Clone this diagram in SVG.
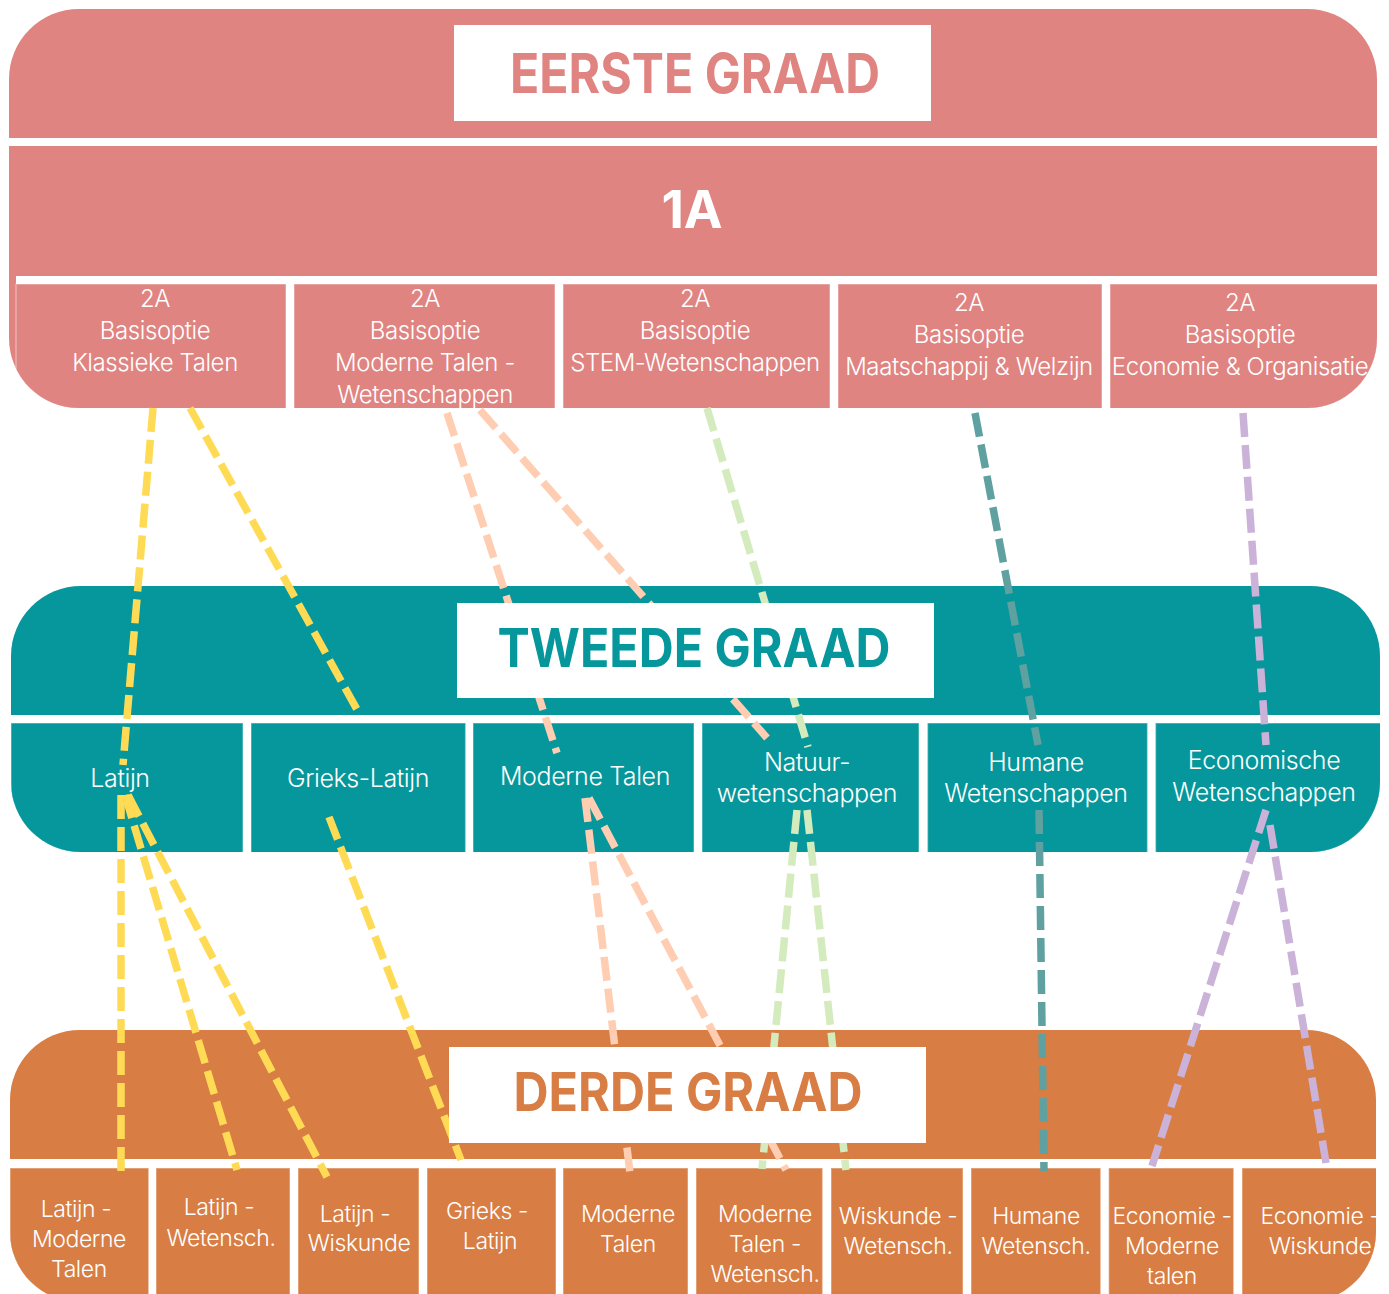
<svg xmlns="http://www.w3.org/2000/svg" width="1389" height="1294" viewBox="0 0 1389 1294">
<defs>
<style>
.p1{fill:#e08482}
.p2{fill:#05979b}
.p3{fill:#d87d43}
.w{fill:#ffffff}
.cell{stroke:#ffffff;stroke-opacity:0.35;stroke-width:1.5}
.ttl{font-family:Inter,"Noto Sans",sans-serif;font-weight:700;text-anchor:middle}
.t{font-family:Inter,"Noto Sans",sans-serif;font-weight:300;fill:#ffffff;text-anchor:middle;letter-spacing:-0.4px}
.s1{font-size:24px}
.s2{font-size:25px}
.s3{font-size:23px}
.c{fill:none;stroke-width:7.5;stroke-dasharray:24 8;stroke-linecap:butt}
.cy{stroke:#ffdb55}
.cp{stroke:#ffcdb1}
.cg{stroke:#d3ebbd}
.ct{stroke:#5fa0a0}
.cl{stroke:#cbb2d8}
</style>
<clipPath id="clip1"><rect x="9" y="9" width="1368" height="399" rx="70" ry="70"/></clipPath>
<clipPath id="clip2"><rect x="11" y="586" width="1369" height="266" rx="70" ry="70"/></clipPath>
<clipPath id="clip3"><rect x="10" y="1030" width="1366" height="272" rx="70" ry="70"/></clipPath>
</defs>

<g id="eerste-graad" clip-path="url(#clip1)">
<rect class="p1" x="9" y="9" width="1368" height="399"/>
<rect class="w" x="9" y="138" width="1368" height="8"/>
<rect class="w" x="16" y="276" width="1361" height="132"/>
<g id="e-1a"><rect class="p1" x="9" y="146" width="1368" height="130"/><text class="ttl" x="692" y="228" font-size="52" fill="#ffffff">1A</text></g>
<g id="e-kt"><rect class="p1 cell" x="16" y="284" width="270" height="130"/>
<text class="t s1" x="155"><tspan x="155" y="307">2A</tspan><tspan x="155" y="339">Basisoptie</tspan><tspan x="155" y="371">Klassieke Talen</tspan></text></g>
<g id="e-mtw"><rect class="p1 cell" x="294" y="284" width="261" height="130"/>
<text class="t s1" x="425"><tspan x="425" y="307">2A</tspan><tspan x="425" y="339">Basisoptie</tspan><tspan x="425" y="371">Moderne Talen -</tspan><tspan x="425" y="403">Wetenschappen</tspan></text></g>
<g id="e-stem"><rect class="p1 cell" x="563" y="284" width="267" height="130"/>
<text class="t s1" x="695"><tspan x="695" y="307">2A</tspan><tspan x="695" y="339">Basisoptie</tspan><tspan x="695" y="371">STEM-Wetenschappen</tspan></text></g>
<g id="e-mw"><rect class="p1 cell" x="838" y="284" width="264" height="130"/>
<text class="t s1" x="969"><tspan x="969" y="311">2A</tspan><tspan x="969" y="343">Basisoptie</tspan><tspan x="969" y="375">Maatschappij &amp; Welzijn</tspan></text></g>
<g id="e-eo"><rect class="p1 cell" x="1110" y="284" width="270" height="130"/>
<text class="t s1" x="1240"><tspan x="1240" y="311">2A</tspan><tspan x="1240" y="343">Basisoptie</tspan><tspan x="1240" y="375">Economie &amp; Organisatie</tspan></text></g>
</g>

<g id="tweede-graad" clip-path="url(#clip2)">
<rect class="p2" x="11" y="586" width="1369" height="266"/>
<rect class="w" x="11" y="715" width="1369" height="140"/>
<g id="t-lat"><rect class="p2 cell" x="11" y="723" width="232" height="135"/>
<text class="t s2" x="120" y="787">Latijn</text></g>
<g id="t-gl"><rect class="p2 cell" x="251" y="723" width="214.6" height="135"/>
<text class="t s2" x="358" y="787">Grieks-Latijn</text></g>
<g id="t-mt"><rect class="p2 cell" x="473" y="723" width="221" height="135"/>
<text class="t s2" x="585" y="785">Moderne Talen</text></g>
<g id="t-nw"><rect class="p2 cell" x="702" y="723" width="217" height="135"/>
<text class="t s2" x="807"><tspan x="807" y="771">Natuur-</tspan><tspan x="807" y="802">wetenschappen</tspan></text></g>
<g id="t-hw"><rect class="p2 cell" x="927.5" y="723" width="220" height="135"/>
<text class="t s2" x="1036"><tspan x="1036" y="771">Humane</tspan><tspan x="1036" y="802">Wetenschappen</tspan></text></g>
<g id="t-ew"><rect class="p2 cell" x="1155.5" y="723" width="230" height="135"/>
<text class="t s2" x="1264"><tspan x="1264" y="769">Economische</tspan><tspan x="1264" y="801">Wetenschappen</tspan></text></g>
</g>

<g id="derde-graad" clip-path="url(#clip3)">
<rect class="p3" x="10" y="1030" width="1366" height="272"/>
<rect class="w" x="10" y="1159" width="1366" height="143"/>
<g id="d-lmt"><rect class="p3 cell" x="10" y="1168" width="138.7" height="140"/>
<text class="t s3" x="79"><tspan x="76" y="1217">Latijn -</tspan><tspan x="79" y="1247">Moderne</tspan><tspan x="79" y="1277">Talen</tspan></text></g>
<g id="d-lw"><rect class="p3 cell" x="156" y="1168" width="134" height="140"/>
<text class="t s3" x="221"><tspan x="219" y="1215">Latijn -</tspan><tspan x="221" y="1246">Wetensch.</tspan></text></g>
<g id="d-lwi"><rect class="p3 cell" x="298" y="1168" width="121" height="140"/>
<text class="t s3" x="359"><tspan x="355" y="1222">Latijn -</tspan><tspan x="359" y="1251">Wiskunde</tspan></text></g>
<g id="d-gl"><rect class="p3 cell" x="427" y="1168" width="129" height="140"/>
<text class="t s3" x="490"><tspan x="487" y="1219">Grieks -</tspan><tspan x="490" y="1249">Latijn</tspan></text></g>
<g id="d-mt"><rect class="p3 cell" x="563" y="1168" width="125" height="140"/>
<text class="t s3" x="628"><tspan x="628" y="1222">Moderne</tspan><tspan x="628" y="1252">Talen</tspan></text></g>
<g id="d-mtw"><rect class="p3 cell" x="696" y="1168" width="126.6" height="140"/>
<text class="t s3" x="765"><tspan x="765" y="1222">Moderne</tspan><tspan x="765" y="1252">Talen -</tspan><tspan x="765" y="1282">Wetensch.</tspan></text></g>
<g id="d-ww"><rect class="p3 cell" x="831" y="1168" width="132" height="140"/>
<text class="t s3" x="898"><tspan x="898" y="1224">Wiskunde -</tspan><tspan x="898" y="1254">Wetensch.</tspan></text></g>
<g id="d-hw"><rect class="p3 cell" x="971" y="1168" width="129.7" height="140"/>
<text class="t s3" x="1036"><tspan x="1036" y="1224">Humane</tspan><tspan x="1036" y="1254">Wetensch.</tspan></text></g>
<g id="d-emt"><rect class="p3 cell" x="1108.7" y="1168" width="125" height="140"/>
<text class="t s3" x="1172"><tspan x="1172" y="1224">Economie -</tspan><tspan x="1172" y="1254">Moderne</tspan><tspan x="1172" y="1284">talen</tspan></text></g>
<g id="d-ew"><rect class="p3 cell" x="1242" y="1168" width="140" height="140"/>
<text class="t s3" x="1320"><tspan x="1320" y="1224">Economie -</tspan><tspan x="1320" y="1254">Wiskunde</tspan></text></g>
</g>

<g id="connectors">
<line class="c cy" x1="153" y1="408" x2="123" y2="765"/>
<line class="c cy" x1="190" y1="408" x2="360" y2="715"/>
<line class="c cy" x1="121" y1="795" x2="121" y2="1171"/>
<line class="c cy" x1="125" y1="795" x2="237" y2="1170"/>
<line class="c cy" x1="128" y1="795" x2="327" y2="1177"/>
<line class="c cy" x1="329" y1="817" x2="461" y2="1160"/>
<line class="c cp" x1="447" y1="413" x2="557" y2="753"/>
<line class="c cp" x1="480" y1="410" x2="767" y2="738"/>
<line class="c cp" x1="585" y1="798" x2="630" y2="1173"/>
<line class="c cp" x1="589" y1="798" x2="786" y2="1170"/>
<line class="c cg" x1="707" y1="408" x2="808" y2="747"/>
<line class="c cg" x1="797" y1="810" x2="762" y2="1169"/>
<line class="c cg" x1="807" y1="810" x2="846" y2="1170"/>
<line class="c ct" x1="975" y1="413" x2="1038" y2="745"/>
<line class="c ct" x1="1039" y1="810" x2="1044" y2="1171"/>
<line class="c cl" x1="1243" y1="413" x2="1266" y2="745"/>
<line class="c cl" x1="1266" y1="810" x2="1152" y2="1166"/>
<line class="c cl" x1="1270" y1="825" x2="1326" y2="1163"/>
</g>

<g id="title-eerste"><rect class="w" x="454" y="25" width="477" height="96"/>
<text class="ttl" x="695" y="93" font-size="55" fill="#e08482" textLength="370" lengthAdjust="spacingAndGlyphs">EERSTE GRAAD</text></g>
<g id="title-tweede"><rect class="w" x="457" y="603" width="477" height="95"/>
<text class="ttl" x="694" y="667" font-size="54" fill="#05979b" textLength="393" lengthAdjust="spacingAndGlyphs">TWEEDE GRAAD</text></g>
<g id="title-derde"><rect class="w" x="449" y="1047" width="477" height="96"/>
<text class="ttl" x="688" y="1111" font-size="53" fill="#d87d43" textLength="349" lengthAdjust="spacingAndGlyphs">DERDE GRAAD</text></g>
</svg>
